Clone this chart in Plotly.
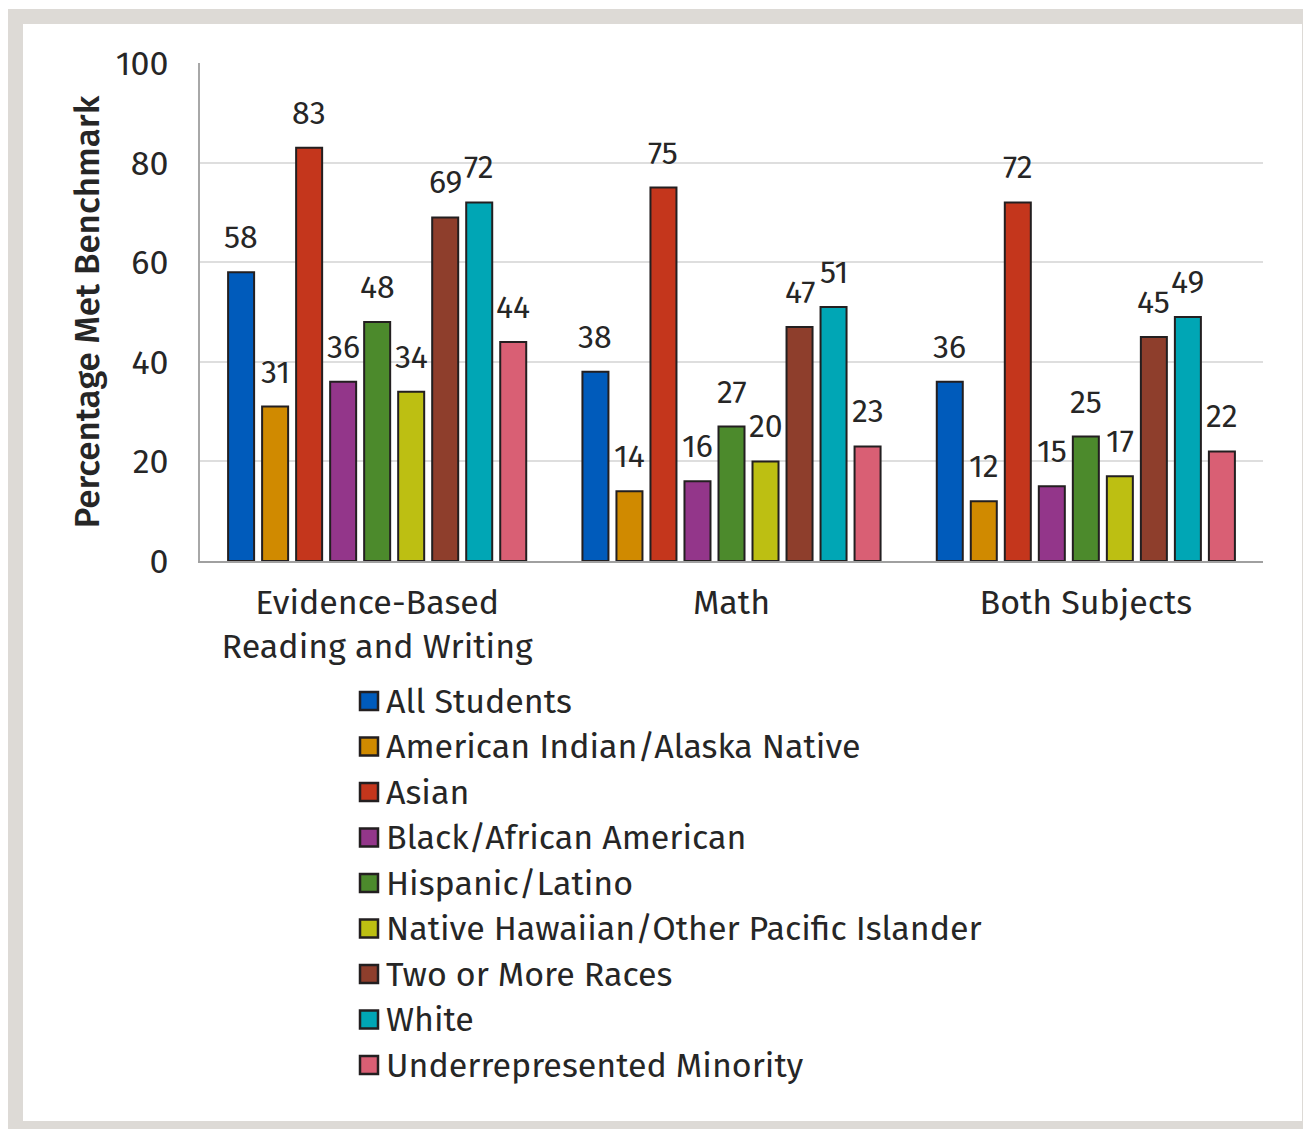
import plotly.graph_objects as go

# Subject areas shown along the x axis
categories = ["Evidence-Based<br>Reading and Writing", "Math", "Both Subjects"]

# Student groups and their bar fill colours
groups = [
    "All Students",
    "American Indian/Alaska Native",
    "Asian",
    "Black/African American",
    "Hispanic/Latino",
    "Native Hawaiian/Other Pacific Islander",
    "Two or More Races",
    "White",
    "Underrepresented Minority",
]
colors = ["#005BBB", "#D08A00", "#C4361C", "#93368A", "#4C8A2C",
          "#BDBF12", "#8E3E2C", "#00A6B5", "#D95F74"]

# Percentage meeting the benchmark: one list per subject area, ordered as `groups`
ebrw = [58, 31, 83, 36, 48, 34, 69, 72, 44]
math = [38, 14, 75, 16, 27, 20, 47, 51, 23]
both = [36, 12, 72, 15, 25, 17, 45, 49, 22]

y_ticks = [0, 20, 40, 60, 80, 100]

values = [ebrw, math, both]
FONT = "Fira Sans, Open Sans, Noto Sans, sans-serif"
TEXT = "#262626"

W, H = 1303, 1129
L, R, T, B = 200, 40, 63, 568
pw, ph = W - L - R, H - T - B

# bar layout within each category slot (category units)
n = len(groups)
pitch = 0.096
bar_w = 0.0734

fig = go.Figure()
annotations = []
for j, g in enumerate(groups):
    xs = [i + (j - (n - 1) / 2) * pitch for i in range(len(categories))]
    ys = [values[i][j] for i in range(len(categories))]
    fig.add_trace(go.Bar(
        x=xs, y=ys, width=bar_w, name=g,
        marker=dict(color=colors[j], line=dict(color="#231f20", width=2)),
        showlegend=False, hoverinfo="y+name",
    ))
    for x, y in zip(xs, ys):
        annotations.append(dict(
            x=x, y=y, xref="x", yref="y", text=str(y), showarrow=False,
            yanchor="bottom", yshift=14,
            font=dict(family=FONT, size=32, color=TEXT),
        ))


def px_x(p):
    return (p - L) / pw


def px_y(p):
    return (H - B - p) / ph


shapes = [
    # outer grey frame and white panel
    dict(type="rect", xref="paper", yref="paper", layer="below",
         x0=px_x(8), x1=px_x(1310), y0=px_y(9), y1=px_y(1135),
         fillcolor="#dddad6", line=dict(width=0)),
    dict(type="rect", xref="paper", yref="paper", layer="below",
         x0=px_x(23), x1=px_x(1302), y0=px_y(24), y1=px_y(1121),
         fillcolor="#ffffff", line=dict(width=0)),
]

# legend: coloured squares with labels, one row per group
leg_x, leg_y0, leg_dy, sq = 360, 701, 45.5, 18
for j, g in enumerate(groups):
    cy = leg_y0 + j * leg_dy
    shapes.append(dict(
        type="rect", xref="paper", yref="paper",
        x0=px_x(leg_x), x1=px_x(leg_x + sq),
        y0=px_y(cy - sq / 2), y1=px_y(cy + sq / 2),
        fillcolor=colors[j], line=dict(color="#231f20", width=2.5),
    ))
    annotations.append(dict(
        x=px_x(leg_x + sq + 6), y=px_y(cy), xref="paper", yref="paper",
        text=g, showarrow=False, xanchor="left", yanchor="middle",
        font=dict(family=FONT, size=34, color=TEXT),
    ))

fig.update_layout(
    width=W, height=H,
    margin=dict(l=L, r=R, t=T, b=B, pad=0),
    paper_bgcolor="#ffffff", plot_bgcolor="rgba(0,0,0,0)",
    barmode="overlay",
    shapes=shapes, annotations=annotations,
    font=dict(family=FONT, color=TEXT),
    xaxis=dict(
        range=[-0.5, len(categories) - 0.5],
        tickvals=list(range(len(categories))), ticktext=categories,
        showgrid=False, zeroline=False, ticks="",
        showline=True, linecolor="#a0a0a0", linewidth=2,
        tickfont=dict(family=FONT, size=34, color=TEXT),
        ticklabelstandoff=10,
    ),
    yaxis=dict(
        range=[0, 100], tickvals=y_ticks,
        showgrid=True, gridcolor="#dedede", gridwidth=2,
        zeroline=False, ticks="",
        showline=True, linecolor="#a8a8a8", linewidth=1.5,
        tickfont=dict(family=FONT, size=34, color=TEXT),
        ticklabelstandoff=23,
        title=dict(text="Percentage Met Benchmark", standoff=6,
                   font=dict(family=FONT, size=35, color=TEXT, weight=500)),
    ),
)

fig.write_html("out.html")
